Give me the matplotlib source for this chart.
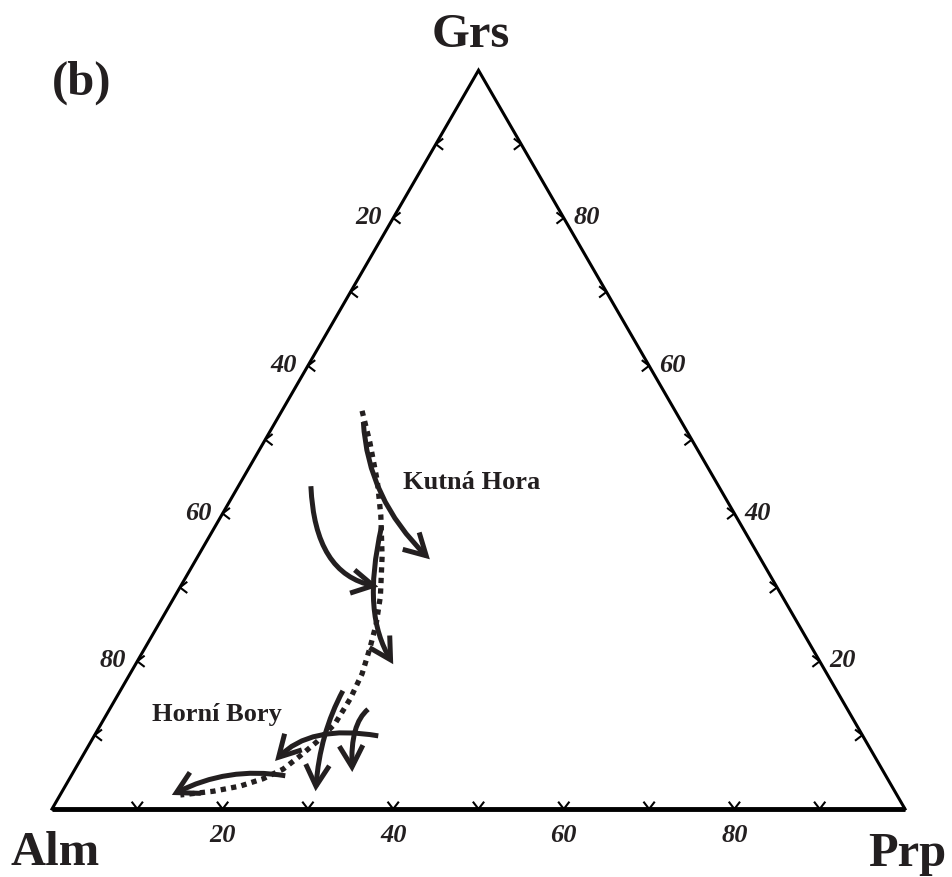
import numpy as np
import matplotlib
matplotlib.use("Agg")
import matplotlib.pyplot as plt
from matplotlib.path import Path
from matplotlib.patches import FancyArrowPatch

plt.rcParams['font.family'] = ['Liberation Serif', 'DejaVu Serif']

# garnet trend (dotted), Prp / Grs in mol. %
trend_prp = [9.4, 12.4, 16.0, 18.7, 21.6, 24.1, 25.5, 26.4, 27.2, 27.5, 27.4, 26.5, 25.5, 24.4, 22.7, 20.5, 17.7, 14.1]
trend_grs = [53.9, 49.7, 44.3, 39.7, 34.2, 28.8, 25.0, 21.7, 18.3, 14.9, 11.5, 9.1, 7.2, 5.4, 4.1, 3.1, 2.4, 1.9]

# zoning arrows: start, control point(s), tip as (Prp, Grs)
kutna_hora_arrows = [
    [(10.3, 52.4), (16.0, 42.0), (27.4, 33.8)],
    [(8.5, 43.7), (14.9, 31.8), (23.2, 30.1)],
    [(19.5, 38.3), (22.1, 29.8), (25.3, 24.4), (30.2, 19.6)],
]
horni_bory_arrows = [
    [(26.1, 16.0), (26.3, 10.2), (29.7, 2.4)],
    [(33.3, 9.9), (24.5, 11.5), (22.9, 6.5)],
    [(30.3, 13.5), (29.2, 11.5), (32.7, 5.0)],
    [(25.1, 4.5), (17.7, 5.8), (13.1, 1.9)],
]

tick_values = [10, 20, 30, 40, 50, 60, 70, 80, 90]
label_values = [20, 40, 60, 80]

TXT = '#231f20'
PX = 1 / 853.0  # one pixel in triangle units
H = np.sqrt(3) / 2


def tern(prp, grs):
    prp = np.asarray(prp, float) / 100
    grs = np.asarray(grs, float) / 100
    return prp + grs / 2, grs * H


fig = plt.figure(figsize=(9.53, 8.78), dpi=100)
ax = fig.add_axes([0, 0, 1, 1])
ax.set_xlim(-52 * PX, 901 * PX)
ax.set_ylim(-68 * PX, 810 * PX)
ax.axis('off')

# triangle frame
ax.plot([0, 0.5, 1], [0, H, 0], color='black', lw=2.2, solid_joinstyle='miter')
ax.plot([0, 1], [0, 0], color='black', lw=3.5, solid_capstyle='butt')

# chevron ticks
a, h = 5 * PX, 6.5 * PX
for v in tick_values:
    # bottom edge (Prp)
    x, y = tern(v, 0)
    ax.plot([x - a, x, x + a], [y + h, y, y + h], color='black', lw=1.5)
    # left edge (Prp = 0)
    x, y = tern(0, v)
    ax.plot([x + h, x, x + h], [y + a, y, y - a], color='black', lw=1.5)
    # right edge (Alm = 0)
    x, y = tern(100 - v, v)
    ax.plot([x - h, x, x - h], [y + a, y, y - a], color='black', lw=1.5)

lab = dict(fontsize=19, fontweight='bold', fontstyle='italic', color=TXT)
for v in label_values:
    x, y = tern(v, 0)
    ax.text(x, y - 32 * PX, str(v), ha='center', va='baseline', **lab)
    x, y = tern(0, 100 - v)
    ax.text(x - 11 * PX, y - 5 * PX, str(v), ha='right', va='baseline', **lab)
    x, y = tern(100 - v, v)
    ax.text(x + 10 * PX, y - 5 * PX, str(v), ha='left', va='baseline', **lab)

# dotted trend
tx, ty = tern(trend_prp, trend_grs)
ax.plot(tx, ty, color='#231f20', lw=3.8, linestyle=(0, (1, 1)),
        dash_capstyle='butt', solid_joinstyle='round')

# zoning arrows
for arr in kutna_hora_arrows + horni_bory_arrows:
    px_, gy_ = zip(*arr)
    xs, ys = tern(px_, gy_)
    verts = list(zip(xs, ys))
    step = Path.CURVE3 if len(verts) == 3 else Path.CURVE4
    codes = [Path.MOVETO] + [step] * (len(verts) - 1)
    patch = FancyArrowPatch(path=Path(verts, codes),
                            arrowstyle='->,head_length=0.45,head_width=0.25',
                            mutation_scale=34, lw=3.6, color='#231f20',
                            joinstyle='miter', capstyle='butt')
    ax.add_patch(patch)

big = dict(fontsize=35, fontweight='bold', color=TXT, va='baseline')
ax.text(419 * PX, 763 * PX, 'Grs', ha='center', **big)
ax.text(3 * PX, -55 * PX, 'Alm', ha='center', **big)
ax.text(855 * PX, -56 * PX, 'Prp', ha='center', **big)
ax.text(0 * PX, 715 * PX, '(b)', ha='left', **big)

mid = dict(fontsize=19, fontweight='bold', color=TXT, va='baseline', ha='left')
ax.text(351 * PX, 321 * PX, 'Kutná Hora', **mid)
ax.text(100 * PX, 89 * PX, 'Horní Bory', **mid)

fig.savefig('out.png', dpi=100)
